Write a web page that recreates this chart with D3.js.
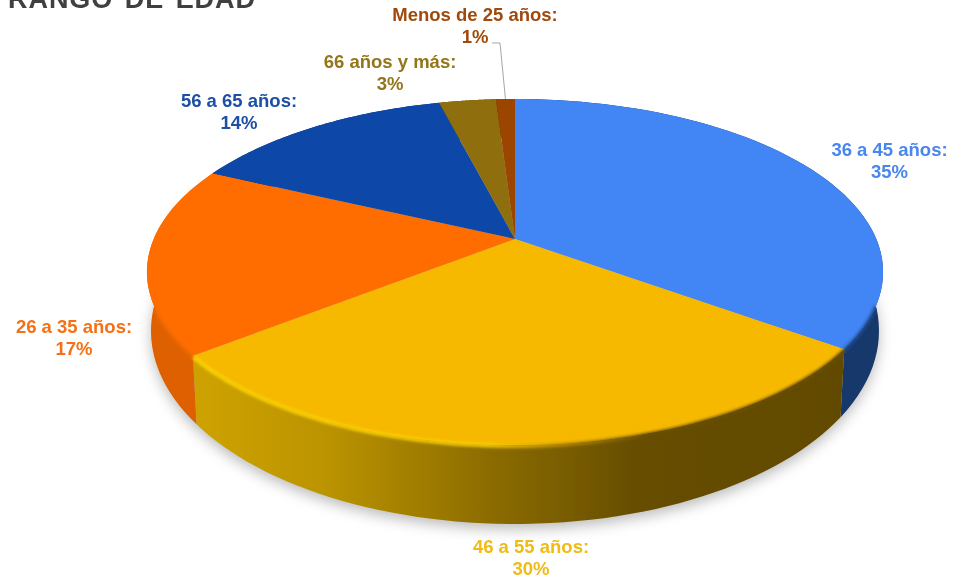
<!DOCTYPE html>
<html><head><meta charset="utf-8">
<script src="https://cdn.jsdelivr.net/npm/d3@7"></script>
<style>html,body{margin:0;padding:0;background:#fff;overflow:hidden}svg{display:block}
text{font-family:"Liberation Sans",Arial,sans-serif;font-weight:700}</style></head>
<body><svg id="c" width="953" height="579"></svg>
<script>
const categories = ["36 a 45 años","46 a 55 años","26 a 35 años","56 a 65 años","66 años y más","Menos de 25 años"];
const shares = [35, 29.4, 17.6, 14, 3, 1];
const percentLabels = ["35%","30%","17%","14%","3%","1%"];
const topColors = ["#4285f4","#f6b900","#ff6d00","#0b47a8","#8f6e0a","#9c4500"];
const sideColors = ["#17376a","url(#ySide)","#de6000","#082f70","#5f4a06","#682e00"];
const rimColors = ["#1f4a8c","url(#yRim)","#f06800"];
const labelColors = ["#4a86ee","#f0bb14","#f57014","#1c4fa6","#93761a","#a04a0c"];
const title = "RANGO DE EDAD";

// layout (not data)
const cx=515, apexY=239, R=361.3, a=121.1, c=-0.1908, R2=357.3, a2=130, b2=294;
const labelAt=[[889.5,156],[531,553],[74,333],[239,107],[390,68],[475,21]];

const svg=d3.select("#c");
const defs=svg.append("defs");
const blur=(id,s)=>defs.append("filter").attr("id",id).attr("x","-20%").attr("y","-20%").attr("width","140%").attr("height","140%")
  .append("feGaussianBlur").attr("stdDeviation",s);
blur("shadow",7); blur("soft",.5); blur("rimBlur",1.5); blur("txt",.3);
const grad=(id,x1,x2,stops)=>{const g=defs.append("linearGradient").attr("id",id).attr("gradientUnits","userSpaceOnUse")
  .attr("x1",x1).attr("x2",x2).attr("y1",0).attr("y2",0);
  stops.forEach(s=>g.append("stop").attr("offset",s[0]).attr("stop-color",s[1]));};
grad("ySide",199,845,[[0,"#cda200"],[.2,"#bb9300"],[.45,"#8c6c00"],[.68,"#664d00"],[1,"#624a00"]]);
grad("yRim",193,845,[[0,"#ffd500"],[.45,"#ffd400"],[.55,"#c79500"],[.7,"#6a5000"],[1,"#6a5000"]]);

const topPt=th=>{const u=Math.sin(th),v=-Math.cos(th),d=1+c*v;
  return [cx+R*u/d,(a*v+apexY)/d];};
const botPt=th=>{const u=Math.sin(th),v=-Math.cos(th),d=1+c*v;
  return [cx+R2*u/d,(a2*v+b2)/d];};
const sample=(s,e,f)=>d3.range(0,61).map(i=>f(s+(e-s)*i/60));

const pie=d3.pie().value(d=>d).sort(null);
const arcs=pie(shares);
const line=d3.line();

// shadow
svg.append("path").attr("d",line(sample(0,2*Math.PI,botPt).map(p=>[p[0],p[1]+5]))+"Z")
  .attr("fill","#8c8c8c").attr("opacity",.6).attr("filter","url(#shadow)");

const g=svg.append("g").attr("filter","url(#soft)");
// side walls
g.selectAll("path.side").data(arcs).join("path").attr("class","side")
  .attr("d",d=>line(sample(d.startAngle,d.endAngle,topPt).concat(sample(d.startAngle,d.endAngle,botPt).reverse()))+"Z")
  .attr("fill",(d,i)=>sideColors[i]);
// top faces
g.selectAll("path.top").data(arcs).join("path").attr("class","top")
  .attr("d",d=>line([[cx,apexY]].concat(sample(d.startAngle,d.endAngle,topPt)))+"Z")
  .attr("fill",(d,i)=>topColors[i]);
// bevel along the rim of the front slices, only where a wall lies under it
const rimClip=defs.append("clipPath").attr("id","rimClip");
rimClip.append("path").attr("d",line(sample(0,2*Math.PI,botPt).map(p=>[p[0],p[1]]))+"Z");
const rimRange=[[Math.PI*.62,null],[null,null],[null,Math.PI*1.42]];
g.append("g").attr("clip-path","url(#rimClip)").selectAll("path.rim").data(arcs.slice(0,3)).join("path").attr("class","rim")
  .attr("d",(d,i)=>line(sample(rimRange[i][0]??d.startAngle,rimRange[i][1]??d.endAngle,topPt).map(p=>[p[0],p[1]+1])))
  .attr("fill","none").attr("stroke",(d,i)=>rimColors[i]).attr("stroke-width",3.5).attr("filter","url(#rimBlur)");
// leader line
const lead=topPt((arcs[5].startAngle+arcs[5].endAngle)/2);
svg.append("path").attr("d",line([[492,43],[500,43],[lead[0],lead[1]]]))
  .attr("fill","none").attr("stroke","#a6a6a6").attr("stroke-width",1);

// labels
const lab=svg.append("g").attr("filter","url(#txt)").selectAll("text").data(categories).join("text")
  .attr("text-anchor","middle").attr("font-size",18.5).attr("fill",(d,i)=>labelColors[i])
  .attr("x",(d,i)=>labelAt[i][0]).attr("y",(d,i)=>labelAt[i][1]);
lab.append("tspan").text(d=>d+":");
lab.append("tspan").attr("x",(d,i)=>labelAt[i][0]).attr("dy",22).text((d,i)=>percentLabels[i]);

svg.append("text").attr("x",8).attr("y",8).attr("font-size",27).attr("fill","#404040").attr("filter","url(#txt)")
  .attr("textLength",247).attr("word-spacing",3).text(title);
</script></body></html>
